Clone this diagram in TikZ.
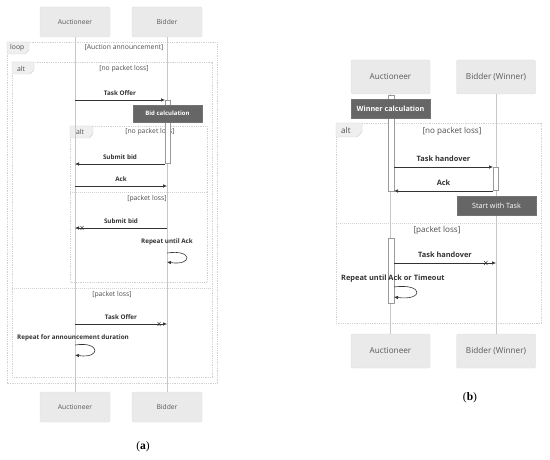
\documentclass[tikz,border=0pt]{standalone}
\usepackage{fontspec}
\setmainfont{Open Sans}
\newfontfamily\capfont{Liberation Serif}
\usetikzlibrary{arrows.meta}
\definecolor{boxfill}{HTML}{EAEAEA}
\definecolor{boxdraw}{HTML}{DDDDDD}
\definecolor{notefill}{HTML}{666666}
\definecolor{msgcol}{HTML}{333333}
\definecolor{framecol}{HTML}{D2D2D2}
\definecolor{tabfill}{HTML}{EFEFEF}
\begin{document}
\begin{tikzpicture}[x=1pt,y=-1pt,
  actorL/.style={draw=boxdraw,fill=boxfill,rounded corners=1.5pt,minimum width=70pt,minimum height=30pt,inner sep=0pt,text=black!65,font=\fontsize{6.7}{7}\selectfont},
  actorR/.style={draw=boxdraw,fill=boxfill,rounded corners=1.5pt,minimum width=79pt,minimum height=34pt,inner sep=0pt,text=black!65,font=\fontsize{8.2}{9}\selectfont},
  life/.style={draw=black!22,line width=0.6pt},
  msg/.style={draw=msgcol,line width=0.6pt,-{Latex[length=4pt,width=3.5pt]}},
  lbl/.style={text=msgcol,inner sep=0pt},
  lblL/.style={lbl,font=\fontsize{6.3}{7}\selectfont\bfseries},
  lblR/.style={lbl,font=\fontsize{7.4}{8}\selectfont\bfseries},
  ftxtL/.style={inner sep=0pt,text=black!70,font=\fontsize{6.8}{7}\selectfont},
  ftxtR/.style={inner sep=0pt,text=black!70,font=\fontsize{8.1}{9}\selectfont},
  frame/.style={draw=framecol,dash pattern=on 1pt off 0.8pt,line width=0.5pt},
  sep/.style={draw=framecol,dash pattern=on 0.8pt off 1.2pt,line width=0.7pt},
  tab/.style={fill=tabfill,draw=framecol,line width=0.4pt},
  act/.style={draw=black!40,fill=white,line width=0.5pt},
  noteL/.style={fill=notefill,draw=black!55,text=white,inner sep=0pt,minimum width=69pt,minimum height=17pt,font=\fontsize{6}{7}\selectfont\bfseries},
  noteR/.style={fill=notefill,draw=black!55,text=white,inner sep=0pt,minimum width=79pt,minimum height=19pt,font=\fontsize{7.2}{8}\selectfont\bfseries},
  crossmk/.style={draw=msgcol,line width=0.5pt}
]
\useasboundingbox (0,0) rectangle (550,460);

% ================= (a) =================
% frames
\draw[frame] (7,42) rectangle (217,383);
\draw[tab] (7,42) -- (29,42) -- (29,50) -- (25,54) -- (7,54) -- cycle;
\node[ftxtL,anchor=west] (loopt) at (10,48) {loop};
\node[ftxtL] (loopc) at (124,48) {[Auction announcement]};

\draw[frame] (12,62) rectangle (212,377);
\draw[tab] (12,62) -- (34,62) -- (34,70) -- (30,74) -- (12,74) -- cycle;
\node[ftxtL,anchor=west] (alt1t) at (17,68.5) {alt};
\node[ftxtL] (alt1c) at (124,69) {[no packet loss]};
\draw[sep] (12,288) -- (212,288);
\node[ftxtL] (alt1p) at (112,294.5) {[packet loss]};

\draw[frame] (70,126) rectangle (207,282);
\draw[tab] (70,126) -- (93,126) -- (93,134) -- (89,138) -- (70,138) -- cycle;
\node[ftxtL,anchor=west] (alt2t) at (76,132) {alt};
\node[ftxtL] (alt2c) at (150,132) {[no packet loss]};
\draw[sep] (70,192) -- (207,192);
\node[ftxtL] (alt2p) at (147,199) {[packet loss]};

% actors and lifelines
\node[actorL] (A1) at (75,22) {Auctioneer};
\node[actorL] (B1) at (167,22) {Bidder};
\node[actorL] (A2) at (75,407) {Auctioneer};
\node[actorL] (B2) at (167,407) {Bidder};
\draw[life] (A1) -- (A2);
\draw[life] (B1) -- (B2);

% activation
\draw[act] (165,100) rectangle (170,163);
\node[noteL] (bidcalc) at (167.5,113.5) {Bid calculation};

% messages
\coordinate (m1a) at (75,100); \coordinate (m1b) at (165,100);
\draw[msg] (m1a) -- (m1b) node[lblL,midway,above=4.5pt] {Task Offer};

\coordinate (m2a) at (165,164); \coordinate (m2b) at (75,164);
\draw[msg] (m2a) -- (m2b) node[lblL,midway,above=4.5pt] {Submit bid};

\coordinate (m3a) at (75,186); \coordinate (m3b) at (167,186);
\draw[msg] (m3a) -- (m3b) node[lblL,midway,above=4.5pt] {Ack};

\coordinate (m4a) at (167,228); \coordinate (m4b) at (75,228);
\draw[msg] (m4a) -- (m4b) node[lblL,midway,above=4.5pt] {Submit bid};
\draw[crossmk] (80.5,226) -- (83.5,230) (80.5,230) -- (83.5,226);

\node[lblL] (rep1) at (167,242) {Repeat until Ack};
\coordinate (l1a) at (167,253); \coordinate (l1b) at (167,262);
\draw[msg] (l1a) .. controls (193,249) and (193,266) .. (l1b);

\coordinate (m5a) at (75,324); \coordinate (m5b) at (167,324);
\draw[msg] (m5a) -- (m5b) node[lblL,midway,above=4.5pt] {Task Offer};
\draw[crossmk] (157.5,322) -- (160.5,326) (157.5,326) -- (160.5,322);

\node[lblL,anchor=west] (rep2) at (17,338) {Repeat for announcement duration};
\coordinate (l2a) at (75,345); \coordinate (l2b) at (75,355);
\draw[msg] (l2a) .. controls (101,341) and (101,359) .. (l2b);

\node[font=\capfont\fontsize{11.5}{13}\selectfont] (capa) at (143,447) {(\textbf{a})};

% ================= (b) =================
\draw[frame] (336,123) rectangle (541,323);
\draw[tab] (336,123) -- (362,123) -- (362,132) -- (357,137) -- (336,137) -- cycle;
\node[ftxtR,anchor=west] (alt3t) at (341,130) {alt};
\node[ftxtR] (alt3c) at (452,131) {[no packet loss]};
\draw[sep] (336,223) -- (541,223);
\node[ftxtR] (alt3p) at (437,230) {[packet loss]};

\node[actorR] (A3) at (390.5,77) {Auctioneer};
\node[actorR] (B3) at (496,77) {Bidder (Winner)};
\node[actorR] (A4) at (390.5,351) {Auctioneer};
\node[actorR] (B4) at (496,351) {Bidder (Winner)};
\draw[life] (A3) -- (A4);
\draw[life] (B3) -- (B4);

\draw[act] (388,95) rectangle (394,191);
\draw[act] (493,167) rectangle (498,190);
\draw[act] (388,238) rectangle (394,303);

\node[noteR] (wincalc) at (390.5,108.5) {Winner calculation};
\node[noteR,font=\fontsize{7.2}{8}\selectfont] (start) at (496.5,206) {Start with Task};

\coordinate (n1a) at (394,167); \coordinate (n1b) at (493,167);
\draw[msg] (n1a) -- (n1b) node[lblR,midway,above=5pt] {Task handover};
\coordinate (n2a) at (493,191); \coordinate (n2b) at (394,191);
\draw[msg] (n2a) -- (n2b) node[lblR,midway,above=5pt] {Ack};

\coordinate (n3a) at (394,263); \coordinate (n3b) at (496,263);
\draw[msg] (n3a) -- (n3b) node[lblR,midway,above=5pt] {Task handover};
\draw[crossmk] (484,261) -- (487.5,265) (484,265) -- (487.5,261);

\node[lblR,anchor=west] (rep3) at (341,279) {Repeat until Ack or Timeout};
\coordinate (l3a) at (394,287); \coordinate (l3b) at (394,297);
\draw[msg] (l3a) .. controls (424,283) and (424,301) .. (l3b);

\node[font=\capfont\fontsize{11.5}{13}\selectfont] (capb) at (470,398) {(\textbf{b})};
\end{tikzpicture}
\end{document}
